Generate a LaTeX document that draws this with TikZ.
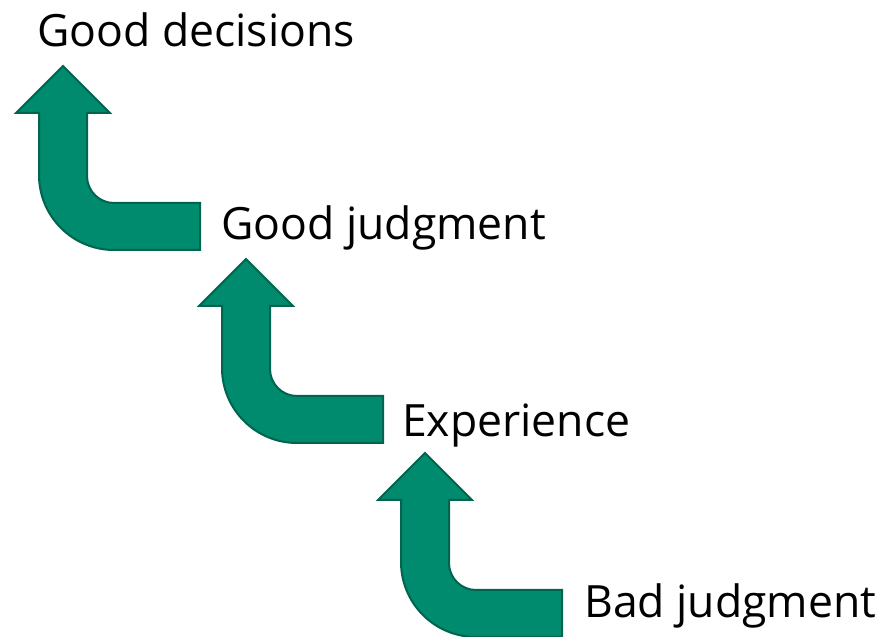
\documentclass[tikz,border=0pt]{standalone}
\usepackage{fontspec}
\setmainfont{Open Sans}
\definecolor{arrowfill}{RGB}{0,138,110}
\definecolor{arrowline}{RGB}{0,100,78}
\tikzset{
  bentup/.style={fill=arrowfill, draw=arrowline, line width=2pt, line join=miter},
  label/.style={anchor=base west, inner sep=0pt, font=\fontsize{44.5}{50}\selectfont}
}
\newcommand{\bentarrow}[2]{%
  \draw[bentup] (#1+75,#2) -- ++(86,0) -- ++(0,47) -- ++(-86,0)
    arc[start angle=270, end angle=180, radius=27]
    -- ++(0,63) -- ++(23,0) -- ++(-47,47) -- ++(-47,-47) -- ++(23,0)
    -- ++(0,-62)
    arc[start angle=180, end angle=270, radius=75] -- cycle;}
\begin{document}
\begin{tikzpicture}[x=1pt,y=1pt]
\useasboundingbox (0,0) rectangle (887,637);
\bentarrow{39}{387}
\bentarrow{222}{194}
\bentarrow{401}{0}
\node[label] (gd) at (37,590) {Good decisions};
\node[label] (gj) at (221,397) {Good judgment};
\node[label] (ex) at (402,200) {Experience};
\node[label] (bj) at (584,19) {Bad judgment};
\end{tikzpicture}
\end{document}
